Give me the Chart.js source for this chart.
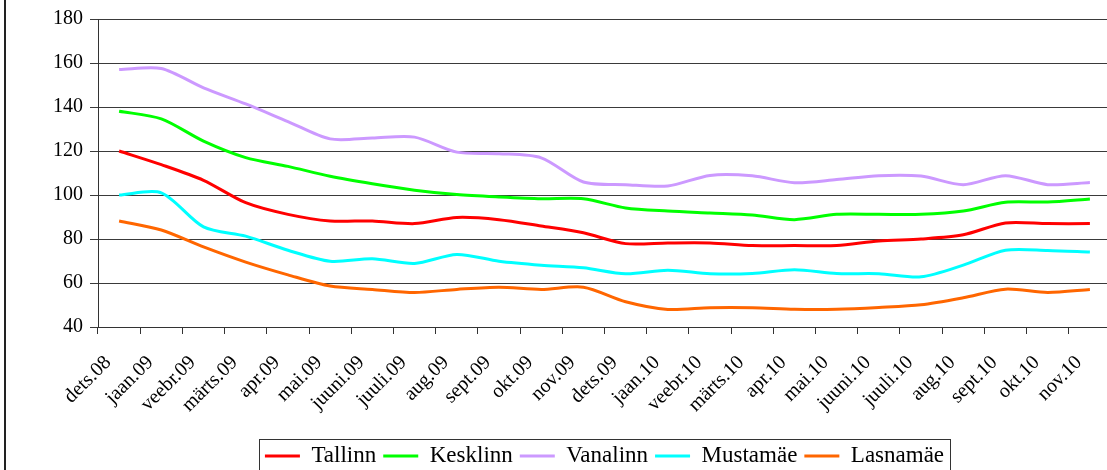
<!DOCTYPE html>
<html>
<head>
<meta charset="utf-8">
<script src="https://cdn.jsdelivr.net/npm/chart.js@4"></script>
<style>
  html, body { margin: 0; padding: 0; background: #fff; }
  #wrap { position: relative; width: 1107px; height: 470px; overflow: hidden; }
  #frame { position: absolute; left: 4px; top: 0; width: 2px; height: 470px; background: #222; }
  #box { position: absolute; left: 0; top: 0; width: 1125px; height: 490px; }
</style>
</head>
<body>
<div id="wrap">
  <div id="box"><canvas id="canvas"></canvas></div>
  <div id="frame"></div>
</div>
<script>
const months = ["dets.08", "jaan.09", "veebr.09", "märts.09", "apr.09", "mai.09", "juuni.09", "juuli.09",
  "aug.09", "sept.09", "okt.09", "nov.09", "dets.09", "jaan.10", "veebr.10", "märts.10",
  "apr.10", "mai.10", "juuni.10", "juuli.10", "aug.10", "sept.10", "okt.10", "nov.10"];

const tallinn = [120, 113.8, 106.7, 96.5, 91.2, 88.2, 88.2, 87, 89.8, 88.8, 85.9, 82.8,
  77.9, 78.2, 78.2, 77, 77, 77, 79.1, 80, 81.9, 87.3, 87, 87];
const kesklinn = [138.1, 134.6, 124.5, 117, 113, 108.5, 105.1, 102.2, 100.2, 99.1, 98.3, 98.3,
  94.1, 92.7, 91.8, 90.9, 88.8, 91.2, 91.2, 91.2, 92.7, 96.7, 96.8, 98.2];
const vanalinn = [157, 157.5, 148.7, 141.4, 133.4, 125.5, 125.9, 126.3, 119.5, 118.8, 116.9, 105.9,
  104.7, 104.1, 108.9, 108.7, 105.6, 107, 108.8, 108.6, 104.7, 108.8, 104.7, 105.7];
const mustamae = [100, 101, 85.5, 81.3, 74.9, 69.9, 71, 68.9, 73, 69.9, 68.1, 66.9,
  64.2, 65.8, 64.2, 64.3, 66, 64.3, 64.2, 62.8, 68.1, 74.9, 74.8, 74.1];
const lasnamae = [88.2, 84.1, 76.4, 69.5, 63.7, 58.6, 57.1, 55.7, 57.1, 58.1, 57.1, 58.1,
  51.5, 48, 48.8, 48.8, 48.1, 48.1, 48.9, 50.1, 53.3, 57.2, 55.7, 57.1];

const yTicks = [40, 60, 80, 100, 120, 140, 160, 180];

const font = "'Liberation Serif', 'Times New Roman', serif";

function line(label, data, color) {
  return {
    label: label,
    data: data,
    borderColor: color,
    backgroundColor: color,
    borderWidth: 3,
    pointRadius: 0,
    tension: 0.28,
    fill: false,
  };
}

// legend sits centred under the plot, with a thin frame round it
const legendFrame = {
  id: "legendFrame",
  afterLayout(chart) {
    const lg = chart.legend;
    const d = (chart.chartArea.left + chart.chartArea.right) / 2 - (lg.left + lg.right) / 2;
    lg.left += d;
    lg.right += d;
  },
  afterDraw(chart) {
    const lg = chart.legend;
    const pad = lg.options.labels.padding;
    const w = lg.lineWidths[0];
    const start = (lg.left + pad + lg.right - w) / 2;
    const ctx = chart.ctx;
    ctx.save();
    ctx.strokeStyle = "#333";
    ctx.lineWidth = 1;
    ctx.strokeRect(Math.round(start - 6) + 0.5, Math.round(lg.top + 1) + 0.5, Math.round(w - pad + 12), 80);
    ctx.restore();
  },
};

const ctx = document.getElementById("canvas").getContext("2d");
new Chart(ctx, {
  type: "line",
  data: {
    labels: months,
    datasets: [
      line("Tallinn", tallinn, "#ff0000"),
      line("Kesklinn", kesklinn, "#00ff00"),
      line("Vanalinn", vanalinn, "#cc99ff"),
      line("Mustamäe", mustamae, "#00ffff"),
      line("Lasnamäe", lasnamae, "#ff6600"),
    ],
  },
  options: {
    responsive: true,
    maintainAspectRatio: false,
    animation: false,
    layout: { padding: { top: 18, right: 14, bottom: 12.5, left: 0 } },
    plugins: {
      tooltip: { enabled: false },
      legend: {
        position: "bottom",
        labels: {
          color: "#000",
          font: { family: font, size: 23 },
          boxWidth: 35,
          boxHeight: 0,
          padding: 7,
        },
      },
    },
    scales: {
      x: {
        offset: true,
        afterFit: (scale) => { scale.height = 110.5; },
        grid: { offset: true, drawOnChartArea: false, drawTicks: true, tickLength: 7, color: "#333" },
        border: { color: "#333", width: 1 },
        ticks: {
          autoSkip: false,
          minRotation: 45,
          maxRotation: 45,
          labelOffset: -11,
          padding: 17,
          color: "#000",
          font: { family: font, size: 20 },
        },
      },
      y: {
        min: 40,
        max: 180,
        afterFit: (scale) => { scale.width = 98; },
        afterBuildTicks: (scale) => { scale.ticks = yTicks.map((v) => ({ value: v })); },
        grid: { color: "#3a3a3a", tickLength: 8 },
        border: { color: "#333", width: 1 },
        ticks: {
          padding: 7,
          color: "#000",
          font: { family: font, size: 20 },
        },
      },
    },
  },
  plugins: [legendFrame],
});
</script>
</body>
</html>
